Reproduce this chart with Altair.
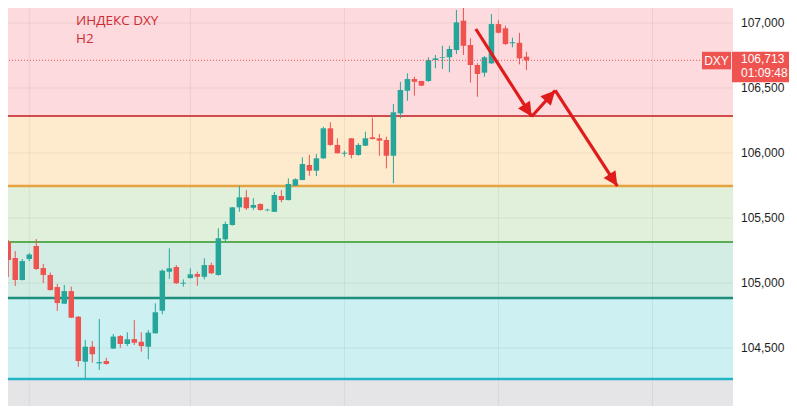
import math
import altair as alt
import pandas as pd

# ---------------- data ----------------
opens = [105.315, 105.192, 105.023, 105.185, 105.285, 105.115, 105.062, 104.969, 104.841, 104.938,
         104.741, 104.395, 104.510, 104.382, 104.400, 104.496, 104.592, 104.531, 104.569, 104.548,
         104.510, 104.613, 104.787, 105.087, 105.123, 104.995, 105.038, 105.069, 105.048, 105.138,
         105.062, 105.336, 105.446, 105.582, 105.659, 105.579, 105.608, 105.559, 105.548, 105.669,
         105.638, 105.748, 105.792, 105.908, 105.864, 105.959, 106.190, 106.062, 105.995, 106.113,
         105.985, 106.056, 106.121, 106.113, 106.100, 105.979, 106.305, 106.479, 106.569, 106.554,
         106.554, 106.715, 106.733, 106.736, 106.792, 107.018, 106.831, 106.677, 106.618, 106.690,
         106.992, 106.959, 106.844, 106.848, 106.741]
closes = [105.177, 105.023, 105.169, 105.219, 105.108, 105.062, 104.946, 104.846, 104.938, 104.733,
          104.400, 104.510, 104.452, 104.392, 104.377, 104.588, 104.531, 104.567, 104.541, 104.515,
          104.618, 104.775, 105.095, 105.113, 104.998, 105.002, 105.067, 105.048, 105.138, 105.075,
          105.344, 105.454, 105.582, 105.659, 105.575, 105.600, 105.562, 105.564, 105.677, 105.638,
          105.762, 105.798, 105.915, 105.864, 105.959, 106.190, 106.062, 105.998, 106.002, 105.985,
          106.062, 106.113, 106.108, 106.095, 105.979, 106.313, 106.485, 106.569, 106.548, 106.518,
          106.715, 106.728, 106.738, 106.800, 107.005, 106.825, 106.677, 106.608, 106.736, 106.992,
          106.925, 106.838, 106.852, 106.728, 106.713]
highs = [105.331, 105.246, 105.185, 105.231, 105.338, 105.146, 105.081, 104.992, 104.985, 104.972,
         104.746, 104.562, 104.554, 104.723, 104.425, 104.608, 104.600, 104.621, 104.715, 104.621,
         104.638, 104.844, 105.105, 105.267, 105.138, 105.028, 105.113, 105.087, 105.190, 105.156,
         105.421, 105.472, 105.585, 105.748, 105.715, 105.652, 105.613, 105.572, 105.700, 105.715,
         105.805, 105.805, 105.967, 105.985, 105.992, 106.202, 106.236, 106.113, 106.018, 106.115,
         106.075, 106.164, 106.272, 106.146, 106.125, 106.377, 106.548, 106.613, 106.587, 106.556,
         106.736, 106.754, 106.825, 106.825, 107.100, 107.125, 106.882, 106.690, 106.746, 107.069,
         107.023, 106.979, 106.887, 106.925, 106.779]
lows = [105.046, 104.977, 105.019, 105.169, 105.100, 105.000, 104.942, 104.785, 104.838, 104.731,
        104.356, 104.269, 104.387, 104.331, 104.373, 104.492, 104.502, 104.515, 104.523, 104.472,
        104.413, 104.612, 104.759, 105.031, 104.992, 104.972, 105.033, 104.979, 105.028, 105.069,
        105.056, 105.318, 105.442, 105.548, 105.562, 105.562, 105.556, 105.552, 105.546, 105.621,
        105.636, 105.746, 105.792, 105.825, 105.823, 105.954, 106.056, 105.996, 105.972, 105.959,
        105.979, 106.054, 106.104, 105.979, 105.882, 105.767, 106.267, 106.402, 106.441, 106.515,
        106.548, 106.652, 106.646, 106.621, 106.762, 106.754, 106.541, 106.433, 106.587, 106.685,
        106.921, 106.831, 106.813, 106.682, 106.638]

zone_tops = [107.177, 106.285, 105.746, 105.315, 104.885, 104.262]
zone_bottoms = [106.285, 105.746, 105.315, 104.885, 104.262, 104.054]
zone_fills = ["#fcdadd", "#feeacd", "#e1f0da", "#d3ede4", "#cdf0f3", "#e5e5e7"]

level_values = [106.285, 105.746, 105.315, 104.885, 104.262]
level_colors = ["#d04b4f", "#e6a23f", "#5cab55", "#1f8f7d", "#22b5c5"]
level_widths = [2.0, 2.5, 2.0, 2.5, 2.5]

axis_ticks = [104.5, 105.0, 105.5, 106.0, 106.5, 107.0]
vgrid_index = [3, 26, 48, 70, 92]

arrow_x = [66.77, 74.75, 78.1, 86.98]
arrow_y = [106.954, 106.281, 106.481, 105.746]

last_price = [106.713]
price_label = ["106,713"]
timer_label = ["01:09:48"]
symbol = ["DXY"]
title_lines = ["ИНДЕКС DXY", "H2"]

# ---------------- styling ----------------
W, H = 733, 406
X_MIN, X_MAX = -0.465, 102.78
Y_MIN, Y_MAX = 104.054, 107.177
UP, DOWN = "#26a69a", "#ef5350"
ARROW = "#e01b1b"
FONT = "Liberation Sans"

xs = alt.Scale(domain=[X_MIN, X_MAX], nice=False, zero=False)
ys = alt.Scale(domain=[Y_MIN, Y_MAX], nice=False, zero=False)

candles = pd.DataFrame({"i": list(range(len(opens))), "open": opens, "high": highs,
                        "low": lows, "close": closes})
candles["dir"] = ["up" if c >= o else "down" for o, c in zip(opens, closes)]
ccolor = alt.Color("dir:N", scale=alt.Scale(domain=["up", "down"], range=[UP, DOWN]), legend=None)

zones_df = pd.DataFrame({"top": zone_tops, "bottom": zone_bottoms, "fill": zone_fills})
levels_df = pd.DataFrame({"v": level_values, "c": level_colors, "w": level_widths})
grid_df = pd.DataFrame({"v": axis_ticks})
vgrid_df = pd.DataFrame({"i": vgrid_index})

sx = W / (X_MAX - X_MIN)
sy = H / (Y_MAX - Y_MIN)
segs = []
for k in range(len(arrow_x) - 1):
    dx = (arrow_x[k + 1] - arrow_x[k]) * sx
    dy = -(arrow_y[k + 1] - arrow_y[k]) * sy
    ang = math.degrees(math.atan2(dx, -dy)) % 360
    segs.append({"x": arrow_x[k], "y": arrow_y[k], "x2": arrow_x[k + 1], "y2": arrow_y[k + 1], "ang": ang})
seg_df = pd.DataFrame(segs)

price_df = pd.DataFrame({"p": last_price, "lab": price_label, "tim": timer_label, "sym": symbol})

zones = alt.Chart(zones_df).mark_rect().encode(
    y=alt.Y("top:Q", scale=ys, axis=None),
    y2="bottom:Q",
    color=alt.Color("fill:N", scale=None),
)

hgrid = alt.Chart(grid_df).mark_rule(color="#000000", opacity=0.06, strokeWidth=1).encode(
    y=alt.Y("v:Q", scale=ys, axis=None))
vgrid = alt.Chart(vgrid_df).mark_rule(color="#000000", opacity=0.06, strokeWidth=1).encode(
    x=alt.X("i:Q", scale=xs, axis=None))

# right-hand price scale labels (decimal comma)
ticklabels = alt.Chart(grid_df).transform_calculate(
    lab="replace(format(datum.v, '.3f'), '.', ',')"
).mark_text(align="left", baseline="middle", font=FONT, fontSize=12, color="#1e1e1e").encode(
    x=alt.value(741), y=alt.Y("v:Q", scale=ys, axis=None), text="lab:N")

levels = alt.Chart(levels_df).mark_rule().encode(
    y=alt.Y("v:Q", scale=ys, axis=None),
    color=alt.Color("c:N", scale=None),
    strokeWidth=alt.StrokeWidth("w:Q", scale=None),
)

wicks = alt.Chart(candles).mark_rule(strokeWidth=1).encode(
    x=alt.X("i:Q", scale=xs, axis=None),
    y=alt.Y("low:Q", scale=ys, axis=None),
    y2="high:Q",
    color=ccolor,
)
bodies = alt.Chart(candles).mark_bar(size=5.5).encode(
    x=alt.X("i:Q", scale=xs, axis=None),
    y=alt.Y("open:Q", scale=ys, axis=None),
    y2="close:Q",
    color=ccolor,
)

price_line = alt.Chart(price_df).mark_rule(color=DOWN, strokeDash=[1, 2], strokeWidth=1).encode(
    y=alt.Y("p:Q", scale=ys, axis=None))

arrows = alt.Chart(seg_df).mark_rule(color=ARROW, strokeWidth=3.2).encode(
    x=alt.X("x:Q", scale=xs, axis=None), y=alt.Y("y:Q", scale=ys, axis=None),
    x2="x2:Q", y2="y2:Q")
heads = alt.Chart(seg_df).mark_point(shape="M0,0L0.6,1.2L-0.6,1.2Z", filled=True, opacity=1,
                                     size=560, color=ARROW, strokeWidth=0).encode(
    x=alt.X("x2:Q", scale=xs, axis=None), y=alt.Y("y2:Q", scale=ys, axis=None),
    angle=alt.Angle("ang:Q", scale=None))

title_df = pd.DataFrame({"t": title_lines, "k": [0, 1]})
title1 = alt.Chart(title_df).transform_filter("datum.k == 0").mark_text(
    align="left", baseline="alphabetic", font="Open Sans", fontSize=13.5, color="#d02a35").encode(
    text="t:N", x=alt.value(76), y=alt.value(25))
title2 = alt.Chart(title_df).transform_filter("datum.k == 1").mark_text(
    align="left", baseline="alphabetic", font="Open Sans", fontSize=13.5, color="#d02a35").encode(
    text="t:N", x=alt.value(76), y=alt.value(43))

price_box = alt.Chart(price_df).mark_rect(color=DOWN, yOffset=-8.5, y2Offset=22).encode(
    x=alt.value(732), x2=alt.value(793),
    y=alt.Y("p:Q", scale=ys, axis=None), y2="p:Q")
sym_box = alt.Chart(price_df).mark_rect(color=DOWN, yOffset=-8.5, y2Offset=9).encode(
    x=alt.value(702), x2=alt.value(731),
    y=alt.Y("p:Q", scale=ys, axis=None), y2="p:Q")
sym_text = alt.Chart(price_df).mark_text(color="white", font=FONT, fontSize=12, align="center",
                                          baseline="middle", dy=0.5).encode(
    x=alt.value(716.5), y=alt.Y("p:Q", scale=ys, axis=None), text="sym:N")
price_text = alt.Chart(price_df).mark_text(color="white", font=FONT, fontSize=12, align="left",
                                            baseline="middle", dy=-1).encode(
    x=alt.value(741), y=alt.Y("p:Q", scale=ys, axis=None), text="lab:N")
timer_text = alt.Chart(price_df).mark_text(color="white", font=FONT, fontSize=12, align="left",
                                            baseline="middle", dy=13).encode(
    x=alt.value(741), y=alt.Y("p:Q", scale=ys, axis=None), text="tim:N")

chart = alt.layer(
    zones, hgrid, vgrid, levels, wicks, bodies, price_line, arrows, heads,
    title1, title2, ticklabels, sym_box, price_box, sym_text, price_text, timer_text,
).resolve_scale(color="independent").properties(
    width=W, height=H,
    padding={"left": -8, "top": -8, "right": 56, "bottom": 0},
    autosize=alt.AutoSizeParams(type="none"),
    background="white",
).configure_view(stroke=None)

chart.save("out.html", embed_options={"renderer": "svg", "actions": False})
